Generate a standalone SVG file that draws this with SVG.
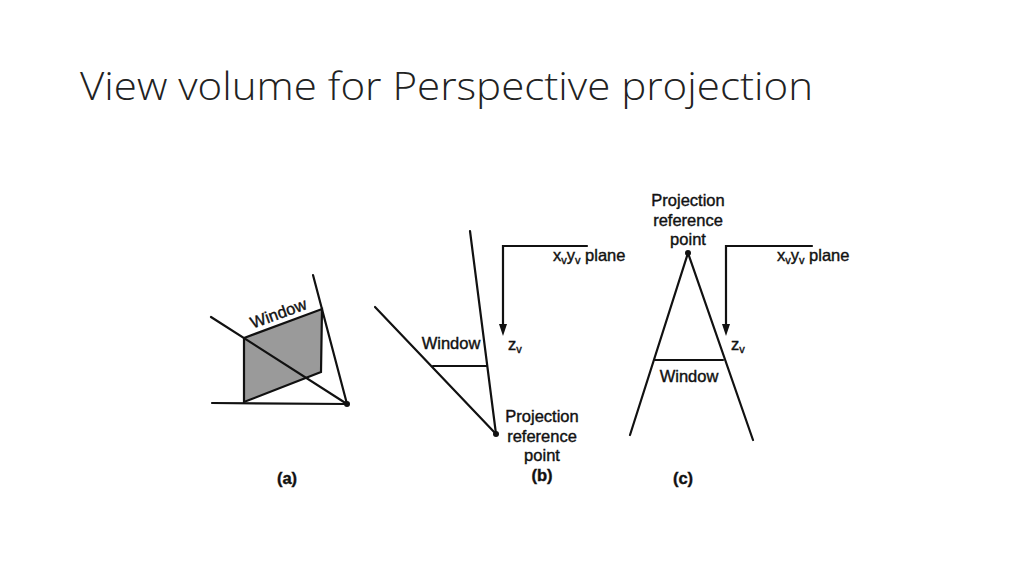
<svg xmlns="http://www.w3.org/2000/svg" width="1024" height="576" viewBox="0 0 1024 576">
<style>
.t{font-family:"Liberation Sans",Arial,sans-serif;font-size:16.5px;fill:#111;stroke:#111;stroke-width:0.4;}
.b{font-weight:bold}
.l{stroke:#111;stroke-width:2.2;fill:none;stroke-linecap:round}
</style>
<rect width="1024" height="576" fill="#fff"/>
<text x="80" y="100" font-family="'Open Sans',sans-serif" font-weight="300" font-size="39" fill="#222" textLength="733" lengthAdjust="spacingAndGlyphs">View volume for Perspective projection</text>
<g id="fig-a">
<polygon points="244,338 322,309 321,372 244,402" fill="#9a9a9a" stroke="#111" stroke-width="2.2"/>
<line class="l" x1="211" y1="317" x2="347" y2="404"/>
<line class="l" x1="313" y1="275" x2="347" y2="404"/>
<line class="l" x1="212" y1="403" x2="347" y2="404"/>
<circle cx="347" cy="404" r="3" fill="#111"/>
<text class="t" x="279" y="319" text-anchor="middle" transform="rotate(-20 279 315)">Window</text>
<text class="t b" x="287" y="484" text-anchor="middle">(a)</text>
</g>
<g id="fig-b">
<line class="l" x1="470" y1="231" x2="496" y2="434"/>
<line class="l" x1="375" y1="307" x2="496" y2="434"/>
<line class="l" x1="433" y1="366" x2="487" y2="366"/>
<circle cx="496" cy="434" r="3" fill="#111"/>
<text class="t" x="451" y="349" text-anchor="middle">Window</text>
<path class="l" d="M587,246 H503 V326"/>
<path d="M499,324 L507,324 L503,336 Z" fill="#111"/>
<text class="t" x="508" y="350">z<tspan font-size="11" dy="3">v</tspan></text>
<text class="t" x="553" y="261">x<tspan font-size="11" dy="3">v</tspan><tspan dy="-3">y</tspan><tspan font-size="11" dy="3">v</tspan><tspan dy="-3"> plane</tspan></text>
<text class="t" x="542" y="422" text-anchor="middle">Projection</text>
<text class="t" x="542" y="442" text-anchor="middle">reference</text>
<text class="t" x="542" y="461" text-anchor="middle">point</text>
<text class="t b" x="542" y="481" text-anchor="middle">(b)</text>
</g>
<g id="fig-c">
<line class="l" x1="688" y1="253" x2="630" y2="435"/>
<line class="l" x1="688" y1="253" x2="753" y2="440"/>
<line class="l" x1="655" y1="360" x2="723" y2="360"/>
<circle cx="688" cy="253" r="3" fill="#111"/>
<text class="t" x="689" y="382" text-anchor="middle">Window</text>
<path class="l" d="M812,246 H726 V326"/>
<path d="M722,324 L730,324 L726,336 Z" fill="#111"/>
<text class="t" x="731" y="350">z<tspan font-size="11" dy="3">v</tspan></text>
<text class="t" x="777" y="261">x<tspan font-size="11" dy="3">v</tspan><tspan dy="-3">y</tspan><tspan font-size="11" dy="3">v</tspan><tspan dy="-3"> plane</tspan></text>
<text class="t" x="688" y="206" text-anchor="middle">Projection</text>
<text class="t" x="688" y="226" text-anchor="middle">reference</text>
<text class="t" x="688" y="245" text-anchor="middle">point</text>
<text class="t b" x="683" y="484" text-anchor="middle">(c)</text>
</g>
</svg>
